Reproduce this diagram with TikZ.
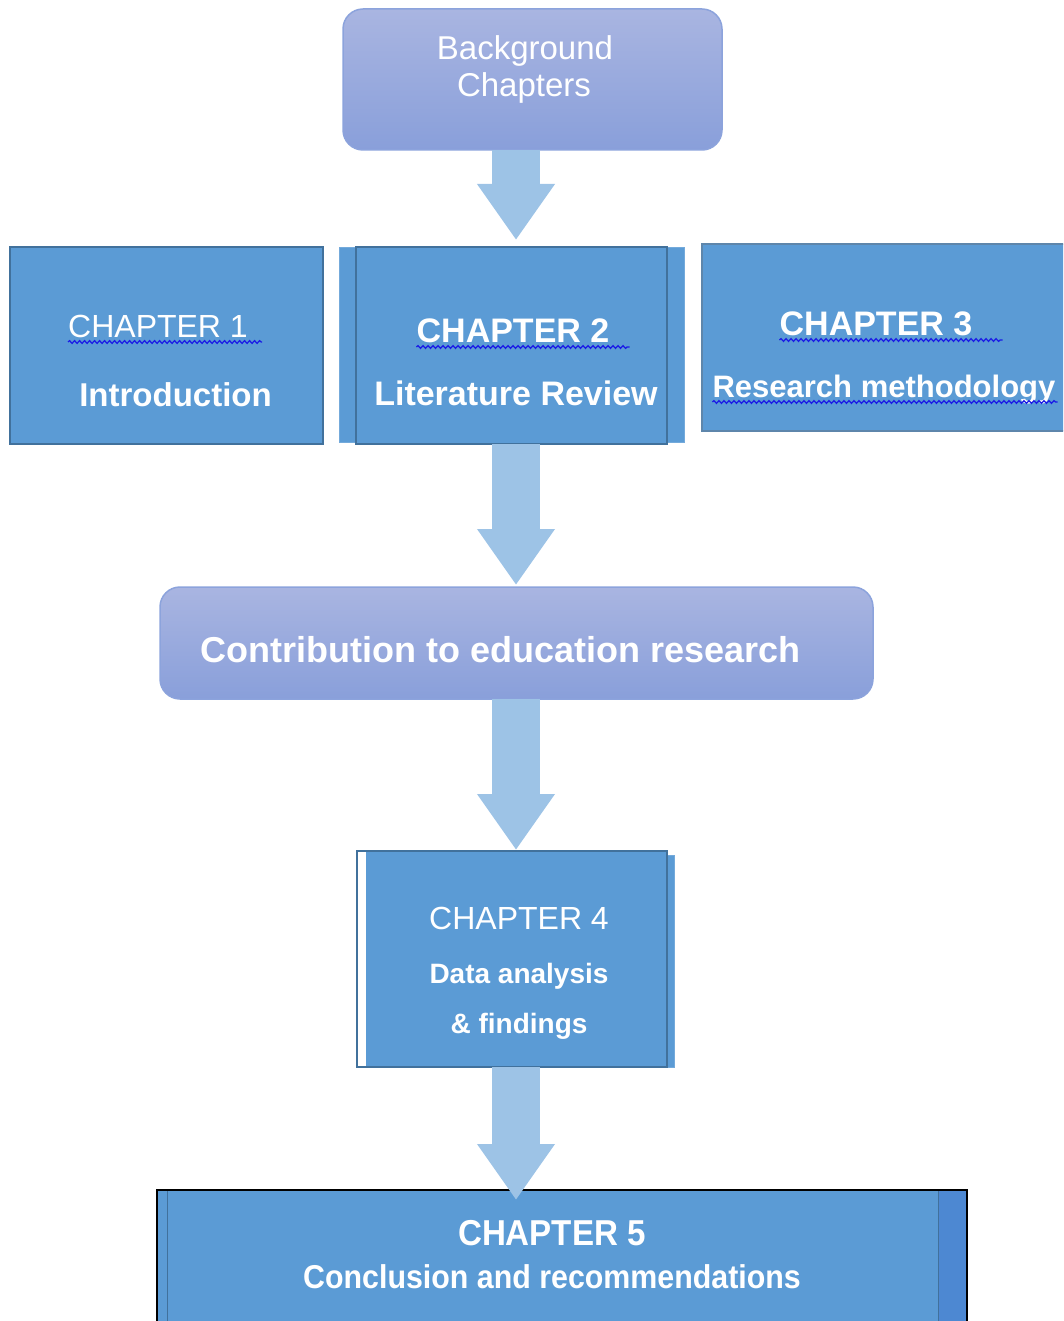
\documentclass[tikz,border=0pt]{standalone}
\usepackage{fontspec}
\setmainfont{Liberation Sans}
\newfontfamily\narrowfont[FakeStretch=0.92]{Liberation Sans}
\usetikzlibrary{arrows.meta,decorations.pathmorphing}
\definecolor{chapblue}{HTML}{5B9BD5}
\definecolor{chapedge}{HTML}{41719C}
\definecolor{bgtop}{HTML}{A9B5E1}
\definecolor{bgbot}{HTML}{899FDA}
\definecolor{bgedge}{HTML}{8CA3DC}
\definecolor{flowblue}{HTML}{9DC3E6}
\definecolor{endstrip}{HTML}{4D88D2}
\definecolor{spellblue}{HTML}{1A1AE6}
\tikzset{
    chapbox/.style={draw=chapedge,line width=2pt,fill=chapblue,inner sep=0pt,outer sep=0pt},
    backbox/.style={fill=chapblue,draw=chapblue!85!white,line width=1pt,inner sep=0pt,outer sep=0pt},
    roundbox/.style={rounded corners=20pt,top color=bgtop,bottom color=bgbot,draw=bgedge,line width=1.5pt,inner sep=0pt,outer sep=0pt},
    lbl/.style={text=white,inner sep=0pt,anchor=base,font=\fontsize{33}{38}\selectfont},
    lblb/.style={lbl,font=\fontsize{33}{38}\selectfont\bfseries},
    flow/.style={line width=48pt,draw=flowblue,-{Triangle[width=74pt,length=56pt]}},
    squiggle/.style={draw=spellblue,line width=1.2pt,decorate,decoration={snake,amplitude=1.4pt,segment length=5pt}},
}
\begin{document}
\begin{tikzpicture}[x=1pt,y=-1pt]
\path[use as bounding box,clip] (0,0) rectangle (1063,1321);
\coordinate (spine) at (516,0);

% background
\node[roundbox,minimum width=379pt,minimum height=141pt] (bg) at (532.5,79.5) {};
\node[lbl] (bg1) at (525,60) {Background};
\node[lbl] (bg2) at (524,97) {Chapters};

% chapters 1 to 3
\node[chapbox,minimum width=313pt,minimum height=197pt] (ch1) at (166.5,345.5) {};
\node[lbl,font=\fontsize{32}{38}\selectfont] (c1) at (158,337) {CHAPTER 1};
\node[lblb] (intro) at (175.5,406) {Introduction};

\node[backbox,minimum width=345pt,minimum height=194pt] (ch2back) at (511.5,345) {};
\node[chapbox,minimum width=311pt,minimum height=197pt] (ch2) at (511.5,345.5) {};
\node[lblb,font=\fontsize{34}{38}\selectfont\bfseries] (c2) at (513,342) {CHAPTER 2};
\node[lblb,font=\fontsize{34}{38}\selectfont\bfseries] (litrev) at (516,405) {Literature Review};

\node[chapbox,draw=chapedge!85!white,minimum width=373pt,minimum height=187pt] (ch3) at (888.5,337.5) {};
\node[lblb,font=\fontsize{34}{38}\selectfont\bfseries] (c3) at (876,335) {CHAPTER 3};
\node[lblb,font=\fontsize{31}{36}\selectfont\bfseries] (rm) at (884,397) {Research methodology};

\foreach \t/\e in {c1/14,c2/20,c3/30,rm/2}
    \draw[squiggle] ([yshift=-5pt]\t.base west) -- ([xshift=\e pt,yshift=-5pt]\t.base east);

% contribution
\node[roundbox,minimum width=713pt,minimum height=112pt] (contrib) at (516.5,643) {};
\node[lblb,font=\fontsize{36}{40}\selectfont\bfseries] (ct) at (500.5,662) {Contribution to education research};

% chapter 4
\node[backbox,minimum width=310pt,minimum height=212pt] (ch4back) at (519,961) {};
\node[chapbox,fill=white,minimum width=310pt,minimum height=216pt] (ch4) at (512,959) {};
\fill[chapblue] ([xshift=9pt,yshift=-1pt]ch4.north west) rectangle ([xshift=-1pt,yshift=1pt]ch4.south east);
\node[lbl,font=\fontsize{32}{38}\selectfont] (c4) at (519,929) {CHAPTER 4};
\node[lblb,font=\fontsize{28}{32}\selectfont\bfseries] (da) at (519,983) {Data analysis};
\node[lblb,font=\fontsize{28}{32}\selectfont\bfseries] (fi) at (519,1033) {\& findings};

% chapter 5
\node[chapbox,draw=black,minimum width=810pt,minimum height=150pt] (ch5) at (562,1265) {};
\fill[endstrip] ([xshift=-29pt,yshift=-1pt]ch5.north east) rectangle ([xshift=-1pt]ch5.south east);
\draw[chapedge,line width=1pt] ([xshift=10pt,yshift=-1pt]ch5.north west) -- ([xshift=10pt]ch5.south west);
\draw[chapedge,line width=1pt] ([xshift=-29pt,yshift=-1pt]ch5.north east) -- ([xshift=-29pt]ch5.south east);
\node[lblb,font=\narrowfont\fontsize{36}{40}\selectfont\bfseries] (c5) at (552,1245) {CHAPTER 5};
\node[lblb,font=\narrowfont\fontsize{33}{38}\selectfont\bfseries] (cr) at (552,1288) {Conclusion and recommendations};

% arrows
\draw[flow,shorten >=7pt] (bg.south -| spine) -- (ch2.north -| spine);
\draw[flow,shorten >=2pt] (ch2.south -| spine) -- (contrib.north -| spine);
\draw[flow,shorten >=1pt] (contrib.south -| spine) -- (ch4.north -| spine);
\draw[flow,shorten >=-10pt] (ch4.south -| spine) -- (ch5.north -| spine);

\end{tikzpicture}
\end{document}
